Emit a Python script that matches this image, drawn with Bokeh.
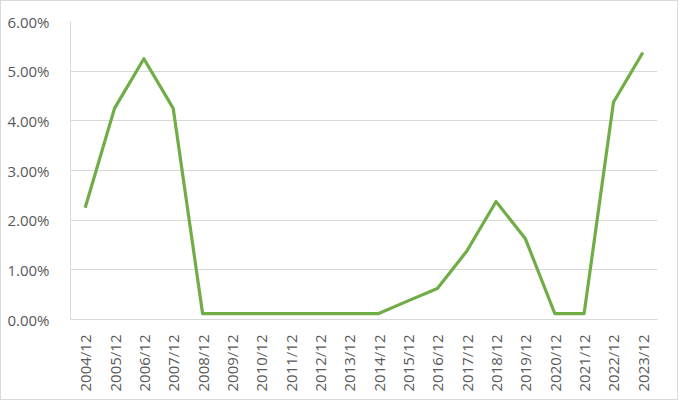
from bokeh.plotting import figure
from bokeh.models import FactorRange, Range1d, FixedTicker, PrintfTickFormatter
from bokeh.embed import file_html
from bokeh.resources import INLINE
import math

years = ["2004/12", "2005/12", "2006/12", "2007/12", "2008/12", "2009/12", "2010/12",
         "2011/12", "2012/12", "2013/12", "2014/12", "2015/12", "2016/12", "2017/12",
         "2018/12", "2019/12", "2020/12", "2021/12", "2022/12", "2023/12"]
rates = [2.25, 4.25, 5.25, 4.25, 0.12, 0.12, 0.12, 0.12, 0.12, 0.12, 0.12,
         0.375, 0.625, 1.375, 2.375, 1.625, 0.12, 0.12, 4.375, 5.375]
y_ticks = [0, 1, 2, 3, 4, 5, 6]

p = figure(width=678, height=400, output_backend="svg", toolbar_location=None,
           x_range=FactorRange(*years, range_padding=0), y_range=Range1d(0, 6),
           min_border_left=69, min_border_right=22, min_border_top=20, min_border_bottom=82)
p.outline_line_color = None
p.background_fill_color = "white"
p.border_fill_color = "white"

p.line(years, rates, line_color="#70AD47", line_width=3.2, line_join="round")

p.xgrid.grid_line_color = None
p.ygrid.grid_line_color = "#d9d9d9"
p.ygrid.ticker = FixedTicker(ticks=y_ticks)

p.yaxis.ticker = FixedTicker(ticks=y_ticks)
p.yaxis.formatter = PrintfTickFormatter(format="%.2f%%")
p.yaxis.axis_line_color = "#d9d9d9"
p.yaxis.major_tick_line_color = None
p.yaxis.minor_tick_line_color = None
p.yaxis.major_label_standoff = 15

p.xaxis.axis_line_color = "#d9d9d9"
p.xaxis.major_tick_line_color = None
p.xaxis.minor_tick_line_color = None
p.xaxis.major_label_orientation = math.pi / 2
p.xaxis.major_label_standoff = 9

for ax in (p.xaxis, p.yaxis):
    ax.major_label_text_font = "Open Sans"
    ax.major_label_text_font_size = "15px"
    ax.major_label_text_color = "#595959"

p.styles = {"border": "1px solid #d9d9d9", "box-sizing": "border-box"}

open("out.html", "w").write(file_html(p, INLINE))
